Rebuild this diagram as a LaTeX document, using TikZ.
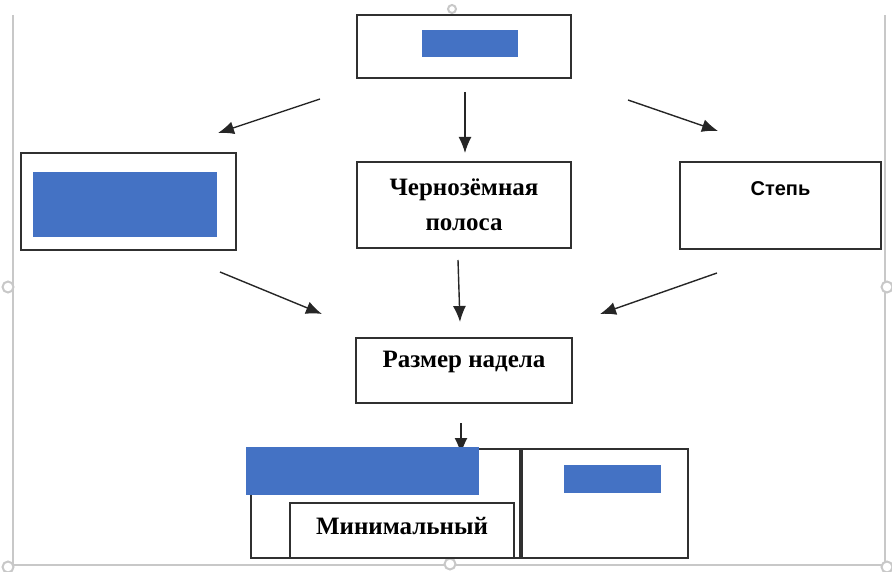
\documentclass[tikz,border=0pt]{standalone}
\usepackage{fontspec}
\setmainfont{Liberation Serif}
\setsansfont{Liberation Sans}
\usetikzlibrary{arrows.meta}
\definecolor{officeblue}{HTML}{4472C4}
\definecolor{framegray}{HTML}{C8C8C8}
\definecolor{boxline}{HTML}{303030}
\tikzset{
  box/.style={draw=boxline,line width=1.8pt,rectangle,inner sep=0pt,align=center,
              font=\fontsize{25}{35}\selectfont\bfseries},
  patch/.style={fill=officeblue,draw=none,rectangle,inner sep=0pt},
  arr/.style={line width=1.4pt,draw=black!85,-{Latex[length=16pt,width=13pt]}},
  handle/.style={draw=framegray,line width=2pt,fill=white,circle,minimum size=11pt,inner sep=0pt}
}
\begin{document}
\begin{tikzpicture}[x=1pt,y=-1pt]
\useasboundingbox (0,0) rectangle (892,572);
% selection frame
\draw[framegray,line width=2.5pt] (13,15) -- (13,565) -- (885,565) -- (885,15);
\draw (8,287) node[handle](hl) {};
\draw (887,287) node[handle](hr) {};
\draw (450,564) node[handle](hb) {};
\draw (8,567) node[handle](hbl) {};
\draw (887,567) node[handle](hbr) {};
\draw (452,9) node[handle,minimum size=8pt](ht) {};
% boxes
\draw (464,46.5) node[box,minimum width=214pt,minimum height=63pt](top) {};
\draw (128.5,201.5) node[box,minimum width=215pt,minimum height=97pt](left) {};
\draw (464,205) node[box,minimum width=214pt,minimum height=86pt](belt) {Чернозёмная\\полоса};
\draw (780.5,205.5) node[box,minimum width=201pt,minimum height=87pt,text depth=34pt,
      font=\fontsize{20}{24}\sffamily\bfseries](steppe) {Степь};
\draw (464,370.5) node[box,minimum width=216pt,minimum height=65pt,text depth=22pt](plot) {Размер надела};
\draw (385.5,503.5) node[box,minimum width=269pt,minimum height=109pt](low) {};
\draw (605,503.5) node[box,minimum width=166pt,minimum height=109pt](high) {};
\draw (402,530.5) node[box,minimum width=224pt,minimum height=55pt,text depth=9pt](minimal) {Минимальный};
% arrows
\coordinate (a1) at (320,99);   \coordinate (b1) at (218,133);
\coordinate (a2) at (465,92);   \coordinate (b2) at (465,153);
\coordinate (a3) at (628,100);  \coordinate (b3) at (718,131);
\coordinate (a4) at (220,272);  \coordinate (b4) at (322,314);
\coordinate (a5) at (458,260);  \coordinate (b5) at (460,322);
\coordinate (a6) at (717,273);  \coordinate (b6) at (600,314);
\coordinate (a7) at (461,423);  \coordinate (b7) at (461,454);
\draw[arr] (a1) -- (b1);
\draw[arr] (a2) -- (b2);
\draw[arr] (a3) -- (b3);
\draw[arr] (a4) -- (b4);
\draw[arr] (a5) -- (b5);
\draw[arr] (a6) -- (b6);
\draw[arr] (a7) -- (b7);
% blue patches
\draw (470,43.5) node[patch,minimum width=96pt,minimum height=27pt](ptop) {};
\draw (125,204.5) node[patch,minimum width=184pt,minimum height=65pt](pleft) {};
\draw (362.5,471) node[patch,minimum width=233pt,minimum height=48pt](plow) {};
\draw (612.5,479) node[patch,minimum width=97pt,minimum height=28pt](phigh) {};
\end{tikzpicture}
\end{document}
